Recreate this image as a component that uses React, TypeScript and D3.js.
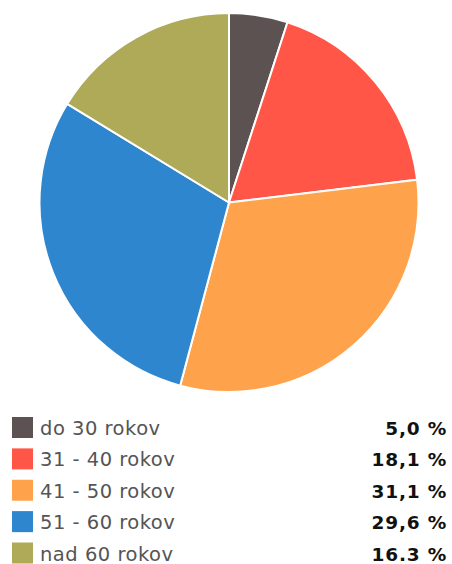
import React from "react";
import * as d3 from "d3";

const categories = ["do 30 rokov", "31 - 40 rokov", "41 - 50 rokov", "51 - 60 rokov", "nad 60 rokov"];
const values = [5.0, 18.1, 31.1, 29.6, 16.3];
const labels = ["5,0 %", "18,1 %", "31,1 %", "29,6 %", "16.3 %"];
const colors = ["#5b5251", "#ff5647", "#ffa24c", "#2e86cf", "#aeaa58"];

export default function App() {
  const W = 452, H = 564;
  const cx = 229, cy = 202.5, r = 189.5;
  const pie = d3.pie<number>().sort(null).value((d) => d);
  const arcs = pie(values);
  const arc = d3.arc<d3.PieArcDatum<number>>().innerRadius(0).outerRadius(r);
  const rowY = d3.scaleLinear().domain([0, 4]).range([427.5, 553]);
  return (
    <svg width={W} height={H} style={{ position: "absolute", left: 0, top: 0 }}>
      <rect width={W} height={H} fill="#fff" />
      <g transform={`translate(${cx},${cy})`}>
        {arcs.map((a, i) => (
          <path key={i} d={arc(a) || ""} fill={colors[i]} stroke="#fff" strokeWidth={2} />
        ))}
      </g>
      {categories.map((c, i) => (
        <g key={c} transform={`translate(0,${rowY(i)})`}>
          <rect x={12} y={-10.5} width={21} height={21} fill={colors[i]} />
          <text x={40} y={7.5} fontFamily="'DejaVu Sans', sans-serif" fontSize={19.5} letterSpacing={0.5} fill="#555">
            {c}
          </text>
          <text x={447} y={7.5} textAnchor="end" fontFamily="'DejaVu Sans', sans-serif" fontWeight={700} fontSize={18.5} letterSpacing={0.8} fill="#111">
            {labels[i]}
          </text>
        </g>
      ))}
    </svg>
  );
}
